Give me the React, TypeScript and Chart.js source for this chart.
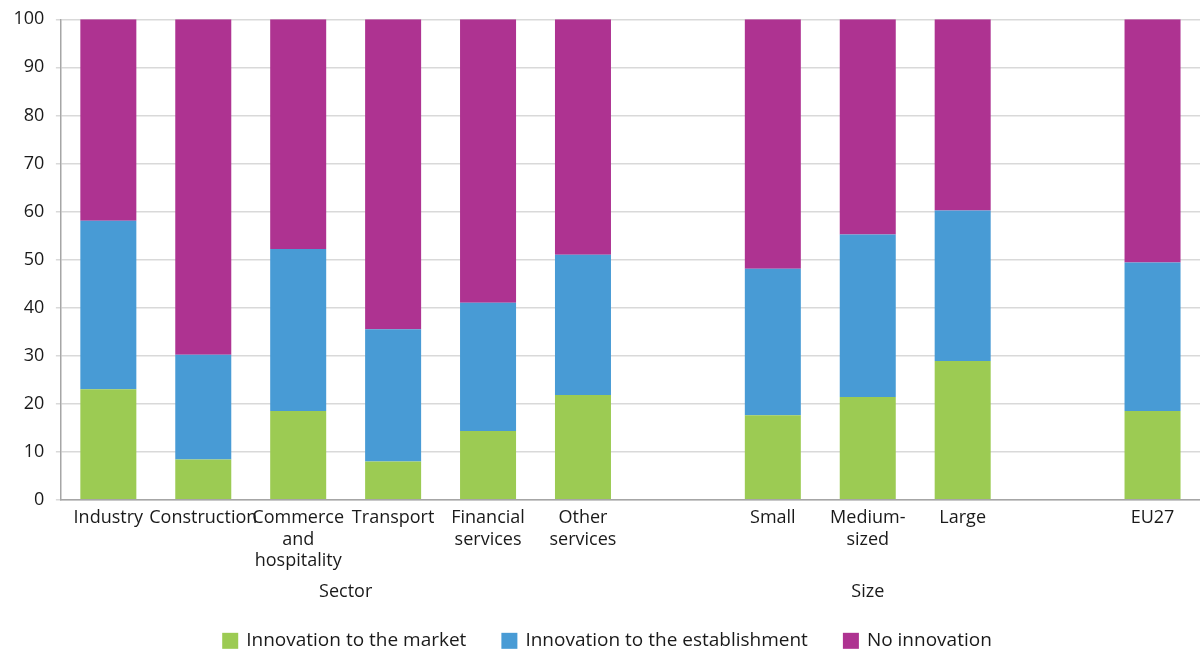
import React, { useEffect, useRef } from "react";
import { Chart, registerables } from "chart.js";

Chart.register(...registerables);

const categories: (string | string[])[] = [
  "Industry",
  "Construction",
  ["Commerce", "and", "hospitality"],
  "Transport",
  ["Financial", "services"],
  ["Other", "services"],
  "",
  "Small",
  ["Medium-", "sized"],
  "Large",
  "",
  "EU27",
];

const innovationMarket: (number | null)[] = [23.0, 8.4, 18.5, 8.0, 14.3, 21.8, null, 17.6, 21.4, 28.9, null, 18.5];
const innovationEstablishment: (number | null)[] = [35.1, 21.8, 33.7, 27.5, 26.7, 29.2, null, 30.5, 33.8, 31.3, null, 30.9];
const noInnovation: (number | null)[] = [41.9, 69.8, 47.8, 64.5, 59.0, 49.0, null, 51.9, 44.8, 39.8, null, 50.6];

const groups: { label: string; from: number; to: number }[] = [
  { label: "Sector", from: 0, to: 5 },
  { label: "Size", from: 7, to: 9 },
];

const seriesNames = ["Innovation to the market", "Innovation to the establishment", "No innovation"];
const colors = ["#9ccb53", "#489bd5", "#ae3391"];

const FONT = "'Open Sans', 'Noto Sans', sans-serif";
const TEXT = "#1a1a1a";

const groupLabelPlugin = {
  id: "groupLabels",
  afterDraw(chart: any) {
    const x = chart.scales.x;
    const ctx = chart.ctx;
    ctx.save();
    ctx.font = `18px ${FONT}`;
    ctx.fillStyle = TEXT;
    ctx.textAlign = "center";
    ctx.textBaseline = "middle";
    groups.forEach((g) => {
      const cx = (x.getPixelForValue(g.from) + x.getPixelForValue(g.to)) / 2;
      ctx.fillText(g.label, cx, x.top + 92);
    });

    // legend
    ctx.font = `19px ${FONT}`;
    ctx.textAlign = "left";
    const box = 16;
    const boxGap = 8;
    const itemGap = 35;
    const widths = seriesNames.map((s) => box + boxGap + ctx.measureText(s).width);
    const total = widths.reduce((a, b) => a + b, 0) + itemGap * (seriesNames.length - 1);
    let lx = (chart.width - total) / 2 + 7;
    const ly = x.top + 141;
    seriesNames.forEach((s, i) => {
      ctx.fillStyle = colors[i];
      ctx.fillRect(lx, ly - box / 2, box, box);
      ctx.fillStyle = TEXT;
      ctx.fillText(s, lx + box + boxGap, ly);
      lx += widths[i] + itemGap;
    });
    ctx.restore();
  },
};

export default function App() {
  const ref = useRef<HTMLCanvasElement | null>(null);
  useEffect(() => {
    if (!ref.current) return;
    const data = [innovationMarket, innovationEstablishment, noInnovation];
    const chart = new Chart(ref.current, {
      type: "bar",
      data: {
        labels: categories,
        datasets: data.map((d, i) => ({
          label: seriesNames[i],
          data: d,
          backgroundColor: colors[i],
          borderWidth: 0,
          categoryPercentage: 1,
          barPercentage: 0.59,
        })),
      },
      options: {
        animation: false,
        responsive: true,
        maintainAspectRatio: false,
        layout: { padding: { left: 2, right: 0, top: 1, bottom: 73 } },
        plugins: {
          tooltip: { enabled: false },
          legend: { display: false },
        },
        scales: {
          x: {
            stacked: true,
            grid: { display: false, drawTicks: false },
            border: { display: true, color: "#a6a6a6", width: 1.5 },
            ticks: {
              font: { family: FONT, size: 18, lineHeight: 1.17 },
              color: TEXT,
              maxRotation: 0,
              autoSkip: false,
              padding: 8,
            },
          },
          y: {
            stacked: true,
            min: 0,
            max: 100,
            ticks: {
              stepSize: 10,
              font: { family: FONT, size: 18 },
              color: TEXT,
              padding: 11.5,
            },
            afterFit: (scale: any) => {
              scale.paddingTop = Math.max(0, scale.paddingTop - 3);
            },
            grid: { color: "#d9d9d9", lineWidth: 1.5, tickLength: 5 },
            border: { display: true, color: "#a6a6a6", width: 1.5 },
          },
        },
      },
      plugins: [groupLabelPlugin],
    });
    return () => chart.destroy();
  }, []);
  return (
    <div style={{ position: "fixed", left: 0, top: 0, width: 1200, height: 652, background: "#fff" }}>
      <canvas ref={ref} />
    </div>
  );
}
